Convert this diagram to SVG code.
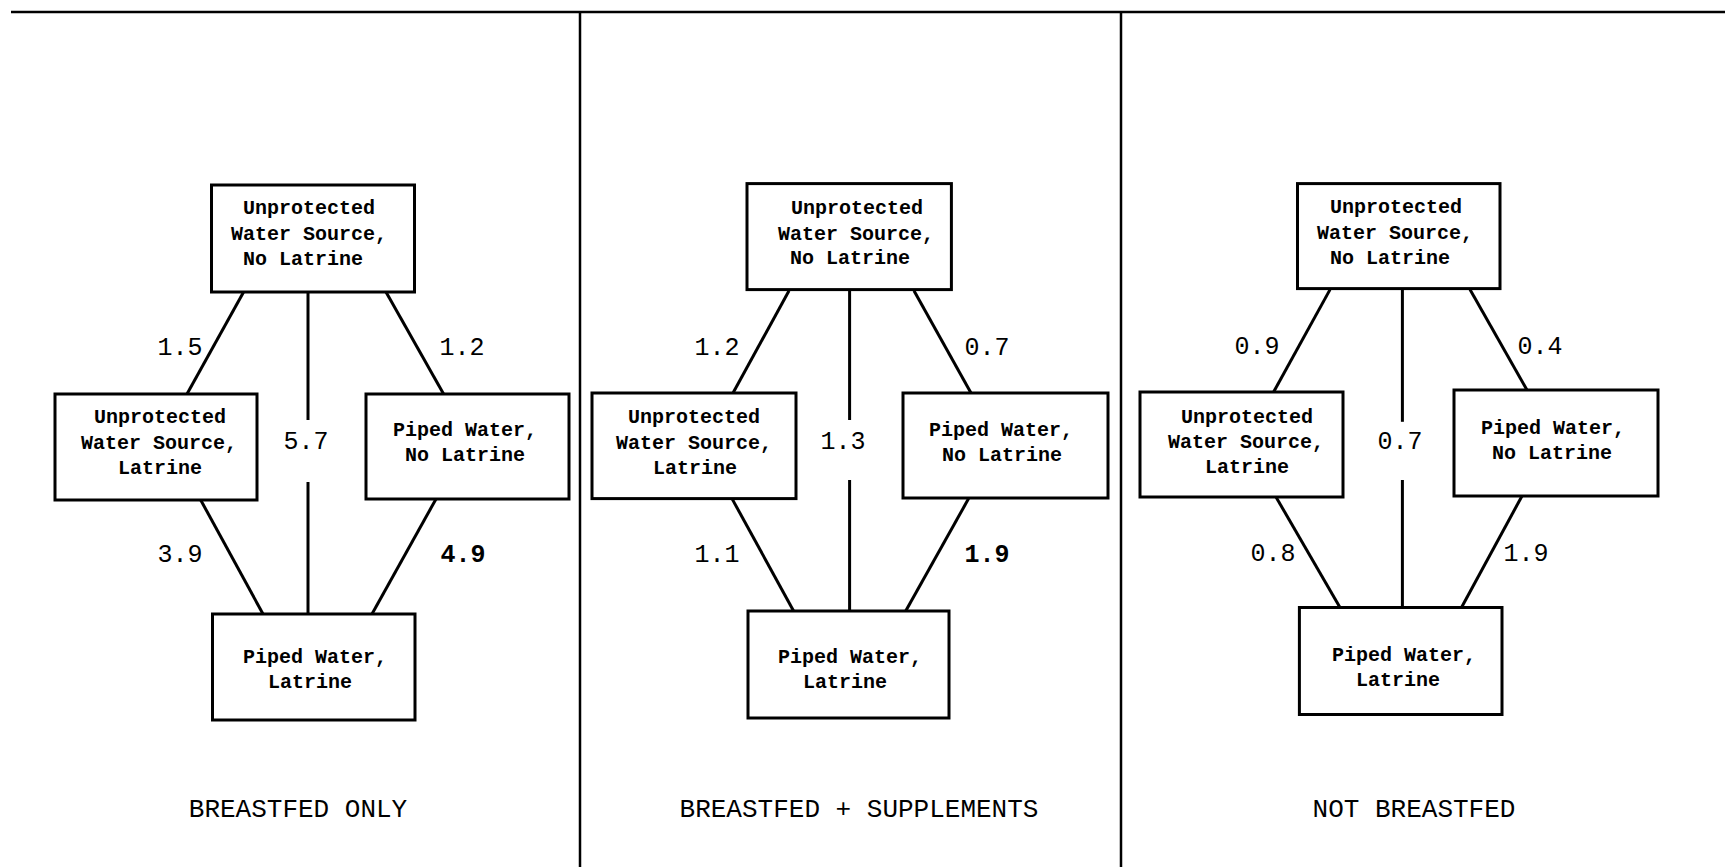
<svg xmlns="http://www.w3.org/2000/svg" width="1725" height="867" viewBox="0 0 1725 867">
<style>
.box{fill:#fff;stroke:#000;stroke-width:3}
.rule{stroke:#000;stroke-width:2.5;fill:none}
.edge{stroke:#000;stroke-width:3;fill:none}
.nt{font-family:"Liberation Mono","DejaVu Sans Mono",monospace;font-size:20px;font-weight:bold;text-anchor:middle;fill:#000}
.lb{font-family:"Liberation Mono","DejaVu Sans Mono",monospace;font-size:25px;text-anchor:middle;fill:#000}
.lbb{font-weight:bold}
.tt{font-family:"Liberation Mono","DejaVu Sans Mono",monospace;font-size:26px;text-anchor:middle;fill:#000}
</style>
<rect width="1725" height="867" fill="#fff"/>
<g id="frame">
<line class="rule" x1="11" y1="12" x2="1725" y2="12"/>
<line class="rule" x1="580" y1="12" x2="580" y2="867"/>
<line class="rule" x1="1121" y1="12" x2="1121" y2="867"/>
</g>
<g id="connectors">
<line class="edge" x1="243.6" y1="292" x2="187" y2="394"/>
<line class="edge" x1="386" y1="292" x2="443.6" y2="394"/>
<line class="edge" x1="308" y1="292" x2="308" y2="420"/>
<line class="edge" x1="308" y1="482" x2="308" y2="614"/>
<line class="edge" x1="200.7" y1="500" x2="263" y2="614"/>
<line class="edge" x1="436" y1="499" x2="372" y2="614"/>
<line class="edge" x1="789" y1="290.7" x2="733" y2="393"/>
<line class="edge" x1="914" y1="290.7" x2="971" y2="393"/>
<line class="edge" x1="849.6" y1="290.7" x2="849.6" y2="420"/>
<line class="edge" x1="849.6" y1="480" x2="849.6" y2="611"/>
<line class="edge" x1="732" y1="498.6" x2="793.6" y2="611"/>
<line class="edge" x1="968.6" y1="498.6" x2="905.7" y2="611"/>
<line class="edge" x1="1330" y1="289.6" x2="1273.6" y2="392"/>
<line class="edge" x1="1470" y1="289.6" x2="1527" y2="390"/>
<line class="edge" x1="1402.4" y1="289.6" x2="1402.4" y2="421.8"/>
<line class="edge" x1="1402.4" y1="480" x2="1402.4" y2="607.5"/>
<line class="edge" x1="1276" y1="497" x2="1340" y2="607.5"/>
<line class="edge" x1="1522" y1="496" x2="1461.5" y2="607.5"/>
</g>
<g id="edge-labels">
<text class="lb" x="180" y="355">1.5</text>
<text class="lb" x="462" y="355">1.2</text>
<text class="lb" x="306" y="449">5.7</text>
<text class="lb" x="180" y="562">3.9</text>
<text class="lb lbb" x="463" y="562">4.9</text>
<text class="lb" x="717" y="355">1.2</text>
<text class="lb" x="987" y="355">0.7</text>
<text class="lb" x="843" y="449">1.3</text>
<text class="lb" x="717" y="562">1.1</text>
<text class="lb lbb" x="987" y="562">1.9</text>
<text class="lb" x="1257" y="354">0.9</text>
<text class="lb" x="1540" y="354">0.4</text>
<text class="lb" x="1400" y="449">0.7</text>
<text class="lb" x="1273" y="561">0.8</text>
<text class="lb" x="1526" y="561">1.9</text>
</g>
<g id="p1-top">
<rect class="box" x="211.5" y="185" width="203" height="107"/>
<text class="nt" x="309" y="214">Unprotected</text>
<text class="nt" x="309" y="240">Water Source,</text>
<text class="nt" x="303" y="265">No Latrine</text>
</g>
<g id="p1-left">
<rect class="box" x="55" y="394" width="202" height="106"/>
<text class="nt" x="160" y="423">Unprotected</text>
<text class="nt" x="159" y="449">Water Source,</text>
<text class="nt" x="160" y="474">Latrine</text>
</g>
<g id="p1-right">
<rect class="box" x="366" y="394" width="203" height="105"/>
<text class="nt" x="465" y="436">Piped Water,</text>
<text class="nt" x="465" y="461">No Latrine</text>
</g>
<g id="p1-bottom">
<rect class="box" x="212.5" y="614" width="202.5" height="106"/>
<text class="nt" x="315" y="663">Piped Water,</text>
<text class="nt" x="310" y="688">Latrine</text>
</g>
<g id="p2-top">
<rect class="box" x="747" y="183.6" width="204.4" height="106"/>
<text class="nt" x="857" y="214">Unprotected</text>
<text class="nt" x="856" y="240">Water Source,</text>
<text class="nt" x="850" y="264">No Latrine</text>
</g>
<g id="p2-left">
<rect class="box" x="592" y="393" width="204" height="105.6"/>
<text class="nt" x="694" y="423">Unprotected</text>
<text class="nt" x="694" y="449">Water Source,</text>
<text class="nt" x="695" y="474">Latrine</text>
</g>
<g id="p2-right">
<rect class="box" x="903" y="393" width="205" height="105"/>
<text class="nt" x="1001" y="436">Piped Water,</text>
<text class="nt" x="1002" y="461">No Latrine</text>
</g>
<g id="p2-bottom">
<rect class="box" x="748" y="611" width="201" height="107"/>
<text class="nt" x="850" y="663">Piped Water,</text>
<text class="nt" x="845" y="688">Latrine</text>
</g>
<g id="p3-top">
<rect class="box" x="1297.5" y="183.6" width="202.5" height="105"/>
<text class="nt" x="1396" y="213">Unprotected</text>
<text class="nt" x="1395" y="239">Water Source,</text>
<text class="nt" x="1390" y="264">No Latrine</text>
</g>
<g id="p3-left">
<rect class="box" x="1140" y="392" width="203" height="105"/>
<text class="nt" x="1247" y="423">Unprotected</text>
<text class="nt" x="1246" y="448">Water Source,</text>
<text class="nt" x="1247" y="473">Latrine</text>
</g>
<g id="p3-right">
<rect class="box" x="1454" y="390" width="204" height="106"/>
<text class="nt" x="1553" y="434">Piped Water,</text>
<text class="nt" x="1552" y="459">No Latrine</text>
</g>
<g id="p3-bottom">
<rect class="box" x="1299.4" y="607.5" width="202.6" height="107"/>
<text class="nt" x="1404" y="661">Piped Water,</text>
<text class="nt" x="1398" y="686">Latrine</text>
</g>
<g id="titles">
<text class="tt" x="298" y="817">BREASTFED ONLY</text>
<text class="tt" x="859" y="817">BREASTFED + SUPPLEMENTS</text>
<text class="tt" x="1414" y="817">NOT BREASTFED</text>
</g>
</svg>
